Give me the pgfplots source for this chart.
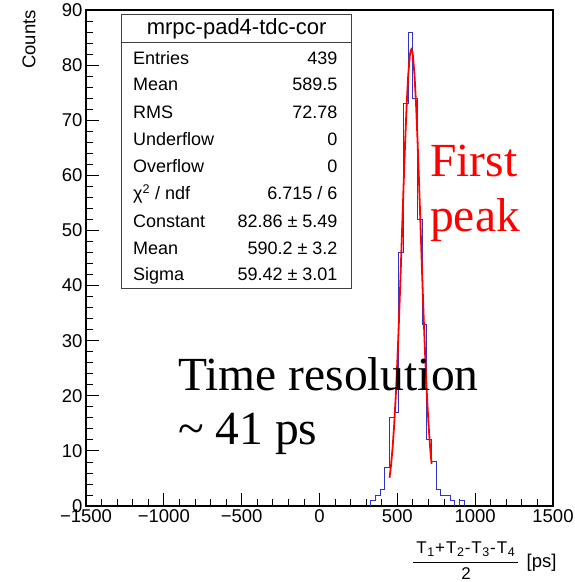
\documentclass[border=0pt]{standalone}
\usepackage{pgfplots}
\pgfplotsset{compat=1.18}
\usepackage{fontspec}
\setmainfont{Liberation Sans}
\newfontfamily\timesfont{Liberation Serif}
\definecolor{histblue}{RGB}{50,50,200}
\tikzset{stat/.style={font=\fontsize{18}{20}\selectfont, inner sep=0pt}}
\newcommand{\sub}[1]{\kern0.6pt\raisebox{-3.2pt}{\fontsize{12.5}{14}\selectfont #1}\kern0.8pt}
\begin{document}
\begin{tikzpicture}[x=1pt,y=1pt]
\useasboundingbox (0,0) rectangle (575,582);
\begin{axis}[
  at={(86pt,76pt)}, anchor=south west,
  scale only axis, width=467pt, height=496pt,
  xmin=-1500, xmax=1500, ymin=0, ymax=90,
  xtick={-1500,-1000,-500,0,500,1000,1500},
  xticklabels={−1500,−1000,−500,0,500,1000,1500},
  ytick={0,10,...,90},
  minor x tick num=4, minor y tick num=4,
  tick align=inside, tick pos=left,
  major tick length=13pt, minor tick length=6.5pt,
  axis line style={line width=1.2pt},
  tick style={black, line width=0.8pt},
  tick label style={font=\fontsize{18.5}{20}\selectfont},
  /pgf/number format/assume math mode=true,
]
\addplot[histblue, line width=0.9pt, const plot mark left] coordinates {
(-1500,0) (330,1) (360,2) (390,3) (420,7) (450,16) (480,17) (510,46) (540,73)
(570,86) (600,74) (630,52) (660,33) (690,12) (720,8) (750,3) (780,2) (810,2)
(840,1) (870,0) (900,1) (930,0) (1500,0)};
\addplot[red, line width=1.8pt] coordinates {
(450,5.12) (460,7.51) (470,10.71) (480,14.84) (490,19.99) (500,26.18) (510,33.32)
(520,41.23) (530,49.60) (540,58.00) (550,65.91) (560,72.82) (570,78.21) (580,81.65)
(585,82.55) (590,82.86) (595,82.58) (600,81.74) (610,78.39) (620,73.07) (630,66.21)
(640,58.32) (650,49.94) (660,41.56) (670,33.63) (680,26.45) (690,20.22) (700,15.02)
(710,10.85) (720,7.62)};
\end{axis}
% stats box
\draw[line width=1pt, black!75] (121.7,293.7) rectangle (351.7,567);
\draw[line width=1pt, black!75] (121.7,539.7) -- (351.7,539.7);
\node[anchor=base, inner sep=0pt, font=\fontsize{22}{24}\selectfont] at (236.7,547) {mrpc-pad4-tdc-cor};
\node[stat, anchor=base west] at (133,517.7) {Entries};
\node[stat, anchor=base east] at (337.7,517.7) {439};
\node[stat, anchor=base west] at (133,491) {Mean};
\node[stat, anchor=base east] at (337.7,491) {589.5};
\node[stat, anchor=base west] at (133,463.7) {RMS};
\node[stat, anchor=base east] at (337.7,463.7) {72.78};
\node[stat, anchor=base west] at (133,436.3) {Underflow};
\node[stat, anchor=base east] at (337.7,436.3) {0};
\node[stat, anchor=base west] at (133,409.7) {Overflow};
\node[stat, anchor=base east] at (337.7,409.7) {0};
\node[stat, anchor=base west] at (133,382.7) {χ\textsuperscript{2} / ndf};
\node[stat, anchor=base east] at (337.7,382.7) {6.715 / 6};
\node[stat, anchor=base west] at (133,354.7) {Constant};
\node[stat, anchor=base east] at (337.7,354.7) {82.86 ± 5.49};
\node[stat, anchor=base west] at (133,327.7) {Mean};
\node[stat, anchor=base east] at (337.7,327.7) {590.2 ± 3.2};
\node[stat, anchor=base west] at (133,301.3) {Sigma};
\node[stat, anchor=base east] at (337.7,301.3) {59.42 ± 3.01};
% annotations
\node[anchor=base west, inner sep=0pt, text=red, font=\timesfont\fontsize{47.5}{50}\selectfont] at (430,405) {First};
\node[anchor=base west, inner sep=0pt, text=red, font=\timesfont\fontsize{47.5}{50}\selectfont] at (430,350) {peak};
\node[anchor=base west, inner sep=0pt, font=\timesfont\fontsize{47.5}{50}\selectfont] at (178,191) {Time resolution};
\node[anchor=base west, inner sep=0pt, font=\timesfont\fontsize{47.5}{50}\selectfont] at (178,137) {\textasciitilde{} 41 ps};
% axis titles
\node[rotate=90, anchor=east, inner sep=0pt, font=\fontsize{18.5}{20}\selectfont] at (29,572) {Counts};
\node[anchor=base, inner sep=0pt, font=\fontsize{17}{19}\selectfont] at (466,28.7) {T\sub{1}+\kern1pt T\sub{2}-\kern1pt T\sub{3}-\kern1pt T\sub{4}};
\draw[line width=0.9pt] (413.3,19.7) -- (518.3,19.7);
\node[anchor=base, inner sep=0pt, font=\fontsize{17}{19}\selectfont] at (466,2.2) {2};
\node[anchor=base west, inner sep=0pt, font=\fontsize{18.5}{21}\selectfont] at (526.5,15) {[ps]};
\end{tikzpicture}
\end{document}
